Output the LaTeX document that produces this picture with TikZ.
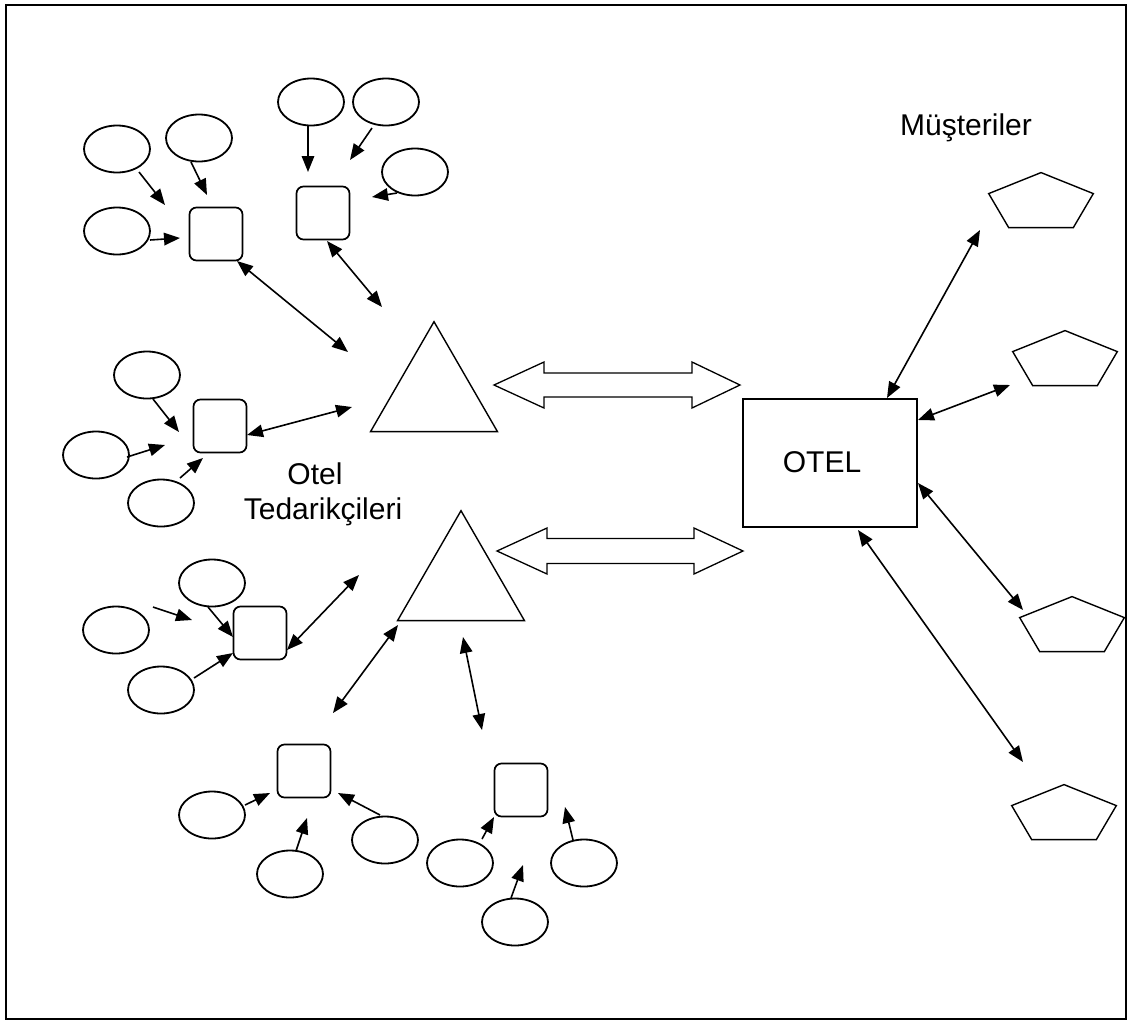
\documentclass[tikz,border=0pt]{standalone}
\usepackage{fontspec}
\setmainfont{Liberation Sans}
\usetikzlibrary{shapes.geometric,arrows.meta}
\begin{document}
\begin{tikzpicture}[x=1pt,y=-1pt,
  ell/.style={draw, ellipse, minimum width=66pt, minimum height=47pt, inner sep=0pt, line width=1.8pt},
  sq/.style={draw, rectangle, rounded corners=7pt, minimum size=53pt, inner sep=0pt, line width=1.7pt},
  tri/.style={draw, regular polygon, regular polygon sides=3, minimum size=146.6pt, inner sep=0pt, line width=1.4pt},
  pent/.style={draw, regular polygon, regular polygon sides=5, minimum size=110pt, inner sep=0pt, yscale=0.553, line width=1.4pt},
  arr/.style={line width=1.6pt, -{Triangle[length=16pt,width=12.5pt]}},
  darr/.style={line width=1.6pt, {Triangle[length=16pt,width=12.5pt]}-{Triangle[length=16pt,width=12.5pt]}},
  lbl/.style={font=\fontsize{30pt}{36pt}\selectfont, anchor=base, inner sep=0pt},
  blk/.style={draw, line width=1.3pt, line join=miter}
]
\useasboundingbox (0,0) rectangle (1127,1021);
\draw[line width=1.6pt] (6,5) rectangle (1126,1019);

% upper-left group
\node[ell] (A1) at (117,149) {};
\node[ell] (A2) at (199,138) {};
\node[ell] (A3) at (117,231) {};
\node[sq]  (S1) at (216,234) {};
\node[ell] (B1) at (311,102) {};
\node[ell] (B2) at (386,102) {};
\node[ell] (B3) at (415,172) {};
\node[sq]  (S2) at (323,213) {};
% middle-left group
\node[ell] (C1) at (147,375) {};
\node[ell] (C2) at (96,455) {};
\node[ell] (C3) at (161,503) {};
\node[sq]  (S3) at (220,426) {};
% lower-left group
\node[ell] (D1) at (212,583) {};
\node[ell] (D2) at (116,630) {};
\node[ell] (D3) at (161,690) {};
\node[sq]  (S4) at (260,633) {};
% bottom groups
\node[ell] (E1) at (212,815) {};
\node[ell] (E2) at (290,874) {};
\node[ell] (E3) at (385,840) {};
\node[sq]  (S5) at (304,771) {};
\node[ell] (F1) at (460,863) {};
\node[ell] (F2) at (584,863) {};
\node[ell] (F3) at (515,922) {};
\node[sq]  (S6) at (521,790) {};

% triangles
\node[tri] (T1) at (434,395) {};
\node[tri] (T2) at (461,584) {};

% hotel
\node[draw, rectangle, minimum width=174pt, minimum height=128pt, inner sep=0pt, line width=1.4pt] (OT) at (830,463) {};
\node[lbl] (OTt) at (822,472) {OTEL};

% customers
\node[pent] (P1) at (1041,203) {};
\node[pent] (P2) at (1065,361) {};
\node[pent] (P3) at (1072,627) {};
\node[pent] (P4) at (1064,815) {};

% labels
\node[lbl] (L1) at (315,484) {Otel};
\node[lbl] (L2) at (323,519) {Tedarikçileri};
\node[lbl] (L3) at (966,135) {Müşteriler};

% block arrows
\draw[blk] (494,385) -- (544,362) -- (544,373) -- (692,373) -- (692,362) -- (740,385)
  -- (692,408) -- (692,397) -- (544,397) -- (544,408) -- cycle;
\draw[blk] (497,551) -- (547,528) -- (547,538.5) -- (694,538.5) -- (694,528) -- (743,551)
  -- (694,574) -- (694,563.5) -- (547,563.5) -- (547,574) -- cycle;

% ellipse -> square arrows
\draw[arr] ([shift={(22,23)}]A1.center) -- ([shift={(-51,-29)}]S1.center);
\draw[arr] ([shift={(-8,24)}]A2.center) -- ([shift={(-9,-39)}]S1.center);
\draw[arr] ([shift={(33,9)}]A3.center) -- ([shift={(-36,4)}]S1.center);
\draw[arr] ([shift={(-3,23)}]B1.center) -- ([shift={(-15,-41)}]S2.center);
\draw[arr] ([shift={(-14,26)}]B2.center) -- ([shift={(27,-53)}]S2.center);
\draw[arr] ([shift={(-18,21)}]B3.center) -- ([shift={(49,-16)}]S2.center);
\draw[arr] ([shift={(6,24)}]C1.center) -- ([shift={(-41,6)}]S3.center);
\draw[arr] ([shift={(31,2)}]C2.center) -- ([shift={(-55,19)}]S3.center);
\draw[arr] ([shift={(19,-25)}]C3.center) -- ([shift={(-17,32)}]S3.center);
\draw[arr] ([shift={(-4,24)}]D1.center) -- ([shift={(-27,4)}]S4.center);
\draw[arr] ([shift={(37,-23)}]D2.center) -- ([shift={(-68,-13)}]S4.center);
\draw[arr] ([shift={(33,-12)}]D3.center) -- ([shift={(-27,20)}]S4.center);
\draw[arr] ([shift={(33,-10)}]E1.center) -- ([shift={(-34,22)}]S5.center);
\draw[arr] ([shift={(6,-23)}]E2.center) -- ([shift={(3,47)}]S5.center);
\draw[arr] ([shift={(-5,-25)}]E3.center) -- ([shift={(34,22)}]S5.center);
\draw[arr] ([shift={(22,-24)}]F1.center) -- ([shift={(-27,27)}]S6.center);
\draw[arr] ([shift={(-11,-23)}]F2.center) -- ([shift={(44,17)}]S6.center);
\draw[arr] ([shift={(-4,-24)}]F3.center) -- ([shift={(2,75)}]S6.center);

% square <-> triangle
\draw[darr] ([shift={(21,27)}]S1.center) -- ([shift={(-86,-43)}]T1.center);
\draw[darr] ([shift={(4,28)}]S2.center) -- ([shift={(-52,-88)}]T1.center);
\draw[darr] ([shift={(27,9)}]S3.center) -- ([shift={(-82,12)}]T1.center);
\draw[darr] ([shift={(27,17)}]S4.center) -- ([shift={(-102,-9)}]T2.center);
\draw[darr] ([shift={(-63,41)}]T2.center) -- ([shift={(29,-58)}]S5.center);
\draw[darr] ([shift={(2,53)}]T2.center) -- ([shift={(-39,-60)}]S6.center);

% hotel <-> customers
\draw[darr] ([shift={(57,-65)}]OT.center) -- ([shift={(-61,27)}]P1.center);
\draw[darr] ([shift={(88,-43)}]OT.center) -- ([shift={(-55,24)}]P2.center);
\draw[darr] ([shift={(88,20)}]OT.center) -- ([shift={(-49,-17)}]P3.center);
\draw[darr] ([shift={(28,67)}]OT.center) -- ([shift={(-41,-53)}]P4.center);
\end{tikzpicture}
\end{document}
